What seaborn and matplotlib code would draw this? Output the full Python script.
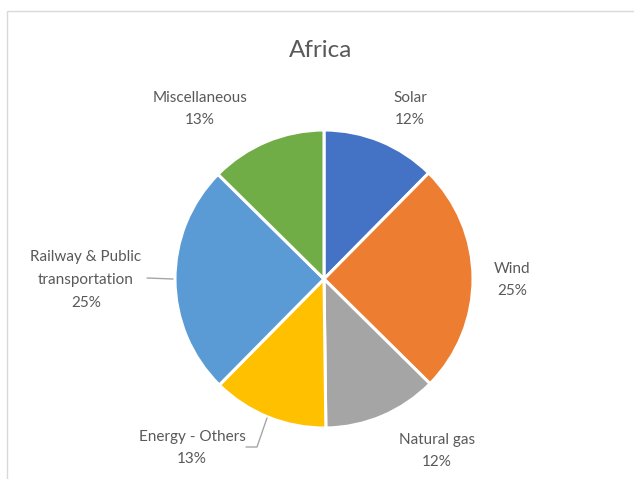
import matplotlib
matplotlib.use("Agg")
import matplotlib.pyplot as plt
import seaborn as sns
from matplotlib.patches import Rectangle

# Data
categories = ["Solar", "Wind", "Natural gas", "Energy - Others",
              "Railway & Public\ntransportation", "Miscellaneous"]
values = [12.4, 25.0, 12.4, 12.6, 25.0, 12.6]
colors = ["#4472C4", "#ED7D31", "#A5A5A5", "#FFC000", "#5B9BD5", "#70AD47"]
title = "Africa"

# Layout (pixel positions of label text centres, y from top)
label_pos = [(410, 109), (512, 280), (437, 451), (192, 448), (86, 280), (200, 109)]

sns.set_theme(style="white")
plt.rcParams['font.family'] = ['Lato', 'DejaVu Sans']
txt_color = "#595959"

W, H = 634, 479
fig = plt.figure(figsize=(W / 100, H / 100), dpi=100)
ax = fig.add_axes([0, 0, 1, 1])

# chart border
fig.patches.append(Rectangle((6.5 / W, -0.05), 1.1, (H - 10.5) / H + 0.05,
                             transform=fig.transFigure, fill=False,
                             edgecolor="#D9D9D9", linewidth=1.0))

cx, cy, r = 324, H - 279, 149
wedges, _ = ax.pie(values, colors=colors, startangle=90, counterclock=False,
                   center=(cx, cy), radius=r, frame=True,
                   wedgeprops=dict(edgecolor="white", linewidth=2.2))
ax.set_xlim(0, W)
ax.set_ylim(0, H)
ax.set_aspect('equal')
ax.axis('off')

total = sum(values)
for cat, v, (lx, ly) in zip(categories, values, label_pos):
    pct = int(v / total * 100 + 0.5)
    ax.text(lx, H - ly, f"{cat}\n{pct}%", ha='center', va='center',
            fontsize=11, color=txt_color, linespacing=1.8)

# leader lines
ax.plot([147, 173], [H - 278, H - 279], color="#A6A6A6", lw=1)
ax.plot([267, 257, 246], [H - 418, H - 447, H - 447], color="#A6A6A6", lw=1)

ax.text(W / 2 + 4, H - 50, title, ha='center', va='center', fontsize=17.5,
        color=txt_color)

fig.savefig("out.png", dpi=100)
